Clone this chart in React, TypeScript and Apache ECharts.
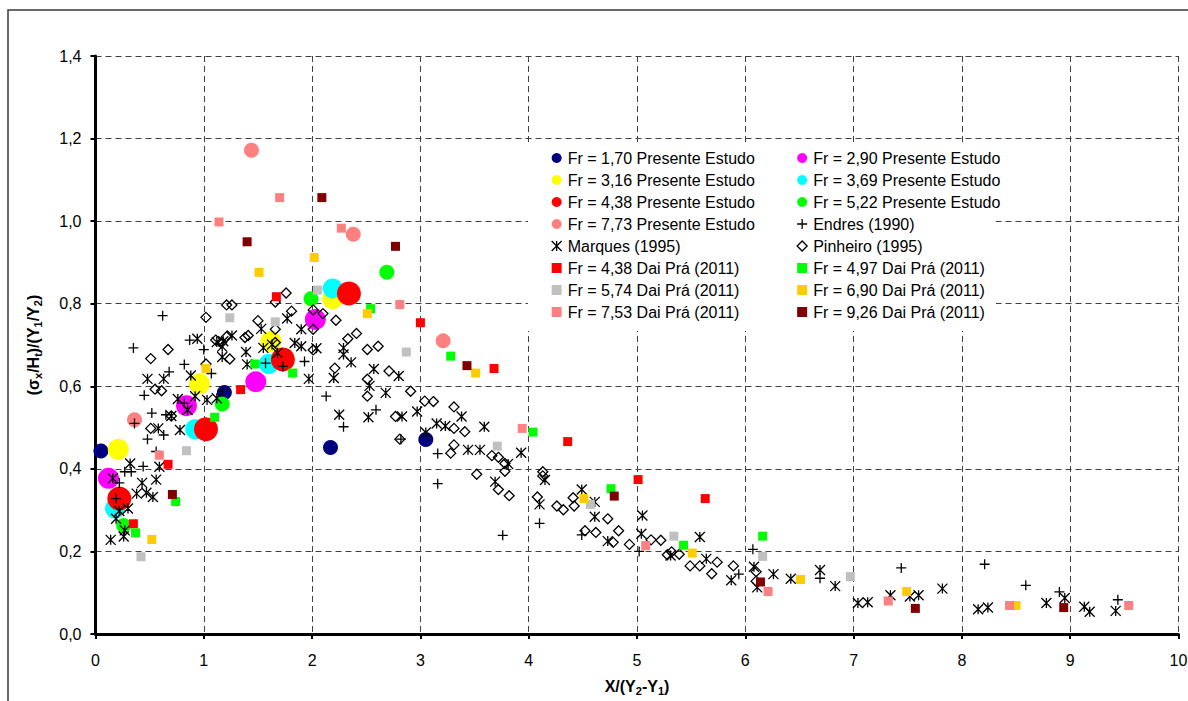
import React, { useEffect, useRef } from 'react';
import * as echarts from 'echarts';

const FONT = '"Liberation Sans", Arial, Helvetica, sans-serif';

// ---- axis ticks ----
const xMin = 0, xMax = 10, xStep = 1;
const yMin = 0, yMax = 1.4, yStep = 0.2;

// ---- Presente Estudo (circles) ----
const pe170 = [[0.05, 0.443], [1.19, 0.585], [2.17, 0.452], [3.05, 0.471]];
const pe290 = [[0.12, 0.377], [0.84, 0.553], [1.48, 0.611], [2.03, 0.762]];
const pe316 = [[0.21, 0.447], [0.96, 0.606], [1.62, 0.709], [2.19, 0.812]];
const pe369 = [[0.18, 0.304], [0.92, 0.496], [1.60, 0.654], [2.19, 0.837]];
const pe438 = [[0.22, 0.328], [1.02, 0.496], [1.73, 0.665], [2.34, 0.825]];
const pe522 = [[0.26, 0.263], [1.17, 0.557], [1.99, 0.812], [2.69, 0.876]];
const pe773 = [[0.36, 0.519], [1.44, 1.172], [2.38, 0.968], [3.21, 0.710]];

// ---- Endres (1990) ----
const endres = [
  [0.19, 0.328], [0.22, 0.366], [0.27, 0.393], [0.33, 0.393], [0.35, 0.693], [0.36, 0.510],
  [0.44, 0.406], [0.45, 0.578], [0.48, 0.472], [0.52, 0.535], [0.56, 0.442], [0.62, 0.771],
  [0.63, 0.482], [0.65, 0.531], [0.68, 0.635], [0.82, 0.653], [0.82, 0.559], [0.87, 0.712],
  [1.00, 0.689], [1.07, 0.631], [1.17, 0.588], [1.57, 0.656], [1.73, 0.648], [1.93, 0.660],
  [2.13, 0.576], [2.29, 0.502], [2.59, 0.543], [2.82, 0.472], [3.16, 0.437], [3.16, 0.364],
  [3.76, 0.239], [4.10, 0.268], [4.49, 0.240], [5.02, 0.200], [5.94, 0.145], [6.07, 0.205],
  [6.69, 0.135], [7.44, 0.160], [8.21, 0.169], [8.59, 0.118], [8.90, 0.102], [9.44, 0.083]
];

// ---- Marques (1995) ----
const marques = [
  [0.14, 0.228], [0.19, 0.279], [0.22, 0.298], [0.26, 0.236], [0.27, 0.251], [0.30, 0.304],
  [0.16, 0.377], [0.32, 0.413], [0.38, 0.340], [0.43, 0.366], [0.47, 0.342], [0.53, 0.332],
  [0.56, 0.374], [0.59, 0.405], [0.48, 0.618], [0.63, 0.618], [0.58, 0.498], [0.70, 0.528],
  [0.76, 0.569], [0.78, 0.494], [0.85, 0.543], [0.88, 0.626], [0.92, 0.576], [0.94, 0.715],
  [1.03, 0.567], [1.12, 0.571],
  [1.12, 0.707], [1.17, 0.696], [1.18, 0.709], [1.17, 0.671], [1.26, 0.723], [1.39, 0.683],
  [1.40, 0.653], [1.53, 0.739], [1.55, 0.693], [1.63, 0.701], [1.68, 0.681], [1.77, 0.764],
  [1.84, 0.705], [1.90, 0.738], [1.90, 0.697], [1.97, 0.618], [2.04, 0.692],
  [2.20, 0.620], [2.29, 0.693], [2.29, 0.677], [2.36, 0.658], [2.25, 0.531], [2.53, 0.601],
  [2.57, 0.642], [2.52, 0.525], [2.68, 0.584], [2.80, 0.625], [2.83, 0.527], [2.97, 0.539],
  [3.05, 0.488], [3.15, 0.510], [3.23, 0.504], [3.38, 0.527],
  [3.44, 0.446], [3.55, 0.446], [3.59, 0.502], [3.69, 0.369], [3.81, 0.412], [3.93, 0.439],
  [4.10, 0.314], [4.15, 0.373], [4.49, 0.350], [4.61, 0.320], [4.61, 0.284], [4.73, 0.225],
  [5.05, 0.287], [5.04, 0.243], [5.31, 0.190],
  [5.58, 0.235], [5.64, 0.182], [5.87, 0.130], [6.08, 0.163], [6.11, 0.113], [6.26, 0.145],
  [6.42, 0.134], [6.69, 0.155], [6.83, 0.116], [7.04, 0.075], [7.13, 0.077], [7.34, 0.094],
  [7.52, 0.091], [7.60, 0.094], [7.82, 0.110], [8.15, 0.060], [8.24, 0.064], [8.78, 0.075],
  [8.95, 0.087], [9.13, 0.066], [9.18, 0.054], [9.42, 0.056]
];

// ---- Pinheiro (1995) ----
const pinheiro = [
  [0.51, 0.667], [0.67, 0.689], [0.55, 0.593], [0.61, 0.589], [0.70, 0.528], [0.51, 0.498],
  [1.02, 0.767], [1.02, 0.654], [1.11, 0.712], [1.16, 0.705], [1.21, 0.797], [1.26, 0.797],
  [1.24, 0.666], [1.21, 0.720],
  [1.38, 0.718], [1.41, 0.723], [1.50, 0.759], [1.66, 0.738], [1.66, 0.706], [1.66, 0.804],
  [1.76, 0.826], [1.81, 0.782], [2.01, 0.785], [2.10, 0.776], [2.22, 0.760], [2.01, 0.738],
  [2.01, 0.688], [2.21, 0.644],
  [2.33, 0.715], [2.41, 0.728], [2.51, 0.689], [2.61, 0.697], [2.51, 0.617], [2.51, 0.576],
  [2.71, 0.637], [2.91, 0.588], [2.77, 0.527], [2.81, 0.472], [3.04, 0.564], [3.12, 0.563],
  [3.31, 0.550], [3.31, 0.498], [3.41, 0.490], [3.31, 0.458], [3.28, 0.438],
  [3.52, 0.387], [3.66, 0.432], [3.72, 0.428], [3.78, 0.413], [3.78, 0.394], [3.72, 0.350],
  [3.82, 0.335], [4.13, 0.393], [4.13, 0.383], [4.08, 0.332], [4.26, 0.310], [4.32, 0.301],
  [4.41, 0.330], [4.42, 0.310], [4.52, 0.250], [4.62, 0.246], [4.73, 0.279], [4.78, 0.222],
  [4.83, 0.250], [4.93, 0.217], [5.13, 0.228], [5.22, 0.227], [5.28, 0.192], [5.32, 0.199],
  [5.39, 0.193], [5.49, 0.165], [5.58, 0.165], [5.69, 0.146], [5.74, 0.174], [5.89, 0.165],
  [6.10, 0.151], [6.10, 0.128]
];

// ---- Dai Prá (2011) (squares) ----
const dp438 = [[0.35, 0.267], [0.67, 0.411], [1.34, 0.592], [1.67, 0.817], [3.00, 0.754], [3.68, 0.643], [4.36, 0.466], [5.01, 0.374], [5.63, 0.328]];
const dp497 = [[0.37, 0.245], [0.74, 0.321], [1.10, 0.525], [1.47, 0.654], [1.82, 0.632], [2.54, 0.788], [3.28, 0.673], [4.04, 0.489], [4.76, 0.352], [5.43, 0.215], [6.16, 0.237]];
const dp574 = [[0.42, 0.187], [0.84, 0.444], [1.24, 0.766], [1.66, 0.756], [2.05, 0.833], [2.87, 0.683], [3.71, 0.455], [4.57, 0.314], [5.34, 0.237], [6.16, 0.188], [6.97, 0.139]];
const dp690 = [[0.52, 0.229], [1.02, 0.643], [1.51, 0.876], [2.02, 0.912], [2.51, 0.776], [3.51, 0.632], [4.51, 0.328], [5.51, 0.196], [6.51, 0.132], [7.49, 0.103], [8.50, 0.069]];
const dp753 = [[0.59, 0.433], [1.14, 0.998], [1.70, 1.057], [2.27, 0.983], [2.81, 0.798], [3.94, 0.498], [5.08, 0.214], [6.21, 0.103], [7.32, 0.080], [8.44, 0.069], [9.54, 0.069]];
const dp926 = [[0.71, 0.338], [1.40, 0.950], [2.09, 1.057], [2.77, 0.939], [3.43, 0.650], [4.79, 0.334], [6.14, 0.126], [7.57, 0.062], [8.94, 0.064]];

const PLUS = 'path://M0,5L10,5M5,0L5,10';
const STAR = 'path://M0,0L10,10M10,0L0,10M5,0L5,10';

type Def = { name: string; data: number[][]; kind: 'circle' | 'rect' | 'plus' | 'star' | 'diamond'; size: number; color: string };

const defs: Def[] = [
  { name: 'Fr = 1,70 Presente Estudo', data: pe170, kind: 'circle', size: 15, color: '#000080' },
  { name: 'Fr = 2,90 Presente Estudo', data: pe290, kind: 'circle', size: 21, color: '#FF00FF' },
  { name: 'Fr = 3,16 Presente Estudo', data: pe316, kind: 'circle', size: 21, color: '#FFFF00' },
  { name: 'Fr = 3,69 Presente Estudo', data: pe369, kind: 'circle', size: 20, color: '#00FFFF' },
  { name: 'Fr = 4,38 Presente Estudo', data: pe438, kind: 'circle', size: 24, color: '#FF0000' },
  { name: 'Fr = 5,22 Presente Estudo', data: pe522, kind: 'circle', size: 15, color: '#00FF00' },
  { name: 'Fr = 7,73 Presente Estudo', data: pe773, kind: 'circle', size: 15, color: '#FF8080' },
  { name: 'Endres (1990)', data: endres, kind: 'plus', size: 10, color: '#000000' },
  { name: 'Marques (1995)', data: marques, kind: 'star', size: 10, color: '#000000' },
  { name: 'Pinheiro (1995)', data: pinheiro, kind: 'diamond', size: 10, color: '#000000' },
  { name: 'Fr = 4,38 Dai Prá (2011)', data: dp438, kind: 'rect', size: 9, color: '#FF0000' },
  { name: 'Fr = 4,97 Dai Prá (2011)', data: dp497, kind: 'rect', size: 9, color: '#00FF00' },
  { name: 'Fr = 5,74 Dai Prá (2011)', data: dp574, kind: 'rect', size: 9, color: '#C0C0C0' },
  { name: 'Fr = 6,90 Dai Prá (2011)', data: dp690, kind: 'rect', size: 9, color: '#FFCC00' },
  { name: 'Fr = 7,53 Dai Prá (2011)', data: dp753, kind: 'rect', size: 9, color: '#FF8080' },
  { name: 'Fr = 9,26 Dai Prá (2011)', data: dp926, kind: 'rect', size: 9, color: '#800000' }
];

const legendCol1 = [0, 2, 4, 6, 8, 10, 12, 14];
const legendCol2 = [1, 3, 5, 7, 9, 11, 13, 15];

function isStroked(d: Def) {
  return d.kind === 'plus' || d.kind === 'star' || d.kind === 'diamond';
}

function buildSeries(d: Def) {
  const symbol = d.kind === 'plus' ? PLUS : d.kind === 'star' ? STAR : d.kind;
  return {
    type: 'scatter',
    name: d.name,
    data: d.data,
    symbol,
    symbolSize: d.size,
    itemStyle: isStroked(d)
      ? { color: 'rgba(0,0,0,0)', borderColor: d.color, borderWidth: 1.3, opacity: 1 }
      : { color: d.color, borderWidth: 0, opacity: 1 },
    emphasis: { disabled: true }
  };
}

function legendItems(idx: number[]) {
  return idx.map((i) => {
    const d = defs[i];
    return isStroked(d)
      ? { name: d.name, itemStyle: { borderWidth: 1.3, opacity: 1 } }
      : { name: d.name, itemStyle: { opacity: 1 } };
  });
}

const legendCommon = {
  orient: 'vertical',
  top: 145,
  itemWidth: 10,
  itemHeight: 10,
  itemGap: 6,
  selectedMode: false,
  textStyle: { fontSize: 16, fontFamily: FONT, color: '#000', lineHeight: 16, padding: [0, 0, 0, 1] }
};

const nameRich = {
  n: { fontSize: 16, fontWeight: 'bold', fontFamily: FONT, color: '#000', lineHeight: 20 },
  s: { fontSize: 11, fontWeight: 'bold', fontFamily: FONT, color: '#000', lineHeight: 11, verticalAlign: 'bottom' }
};

export default function App() {
  const ref = useRef<HTMLDivElement>(null);
  useEffect(() => {
    const chart = echarts.init(ref.current as HTMLDivElement, null, { renderer: 'svg' });
    const option: any = {
      animation: false,
      backgroundColor: '#ffffff',
      textStyle: { fontFamily: FONT },
      grid: { left: 95.5, right: 9.5, top: 56, bottom: 67, containLabel: false, outerBoundsMode: 'none' },
      graphic: [
        {
          type: 'rect', z: -10, silent: true,
          shape: { x: 8, y: 10, width: 1400, height: 900 },
          style: { fill: 'rgba(0,0,0,0)', stroke: '#3a3a3a', lineWidth: 1.5 }
        },
        {
          type: 'rect', z: 1, silent: true,
          shape: { x: 528, y: 143, width: 468, height: 188 },
          style: { fill: '#ffffff' }
        }
      ],
      legend: [
        { ...legendCommon, left: 546, data: legendItems(legendCol1) },
        { ...legendCommon, left: 791.5, data: legendItems(legendCol2) }
      ],
      xAxis: {
        type: 'value',
        min: xMin, max: xMax, interval: xStep,
        name: '{n|X/(Y}{s|2}{n|-Y}{s|1}{n|)}',
        nameLocation: 'middle',
        nameGap: 42,
        nameTextStyle: { rich: nameRich },
        axisLine: { show: true, onZero: false, lineStyle: { color: '#000', width: 3 } },
        axisTick: { show: true, inside: false, length: 5, lineStyle: { color: '#000', width: 2 } },
        axisLabel: { fontSize: 16, fontFamily: FONT, color: '#000', margin: 18, formatter: (v: number) => String(Math.round(v)) },
        splitLine: { show: true, lineStyle: { color: '#404040', width: 1, type: [6, 4] } }
      },
      yAxis: {
        type: 'value',
        min: yMin, max: yMax, interval: yStep,
        name: '{n|(σ}{s|x}{n|/H}{s|t}{n|)/(Y}{s|1}{n|/Y}{s|2}{n|)}',
        nameLocation: 'middle',
        nameGap: 52,
        nameTextStyle: { rich: nameRich },
        axisLine: { show: true, onZero: false, lineStyle: { color: '#000', width: 3 } },
        axisTick: { show: true, inside: false, length: 5, lineStyle: { color: '#000', width: 2 } },
        axisLabel: { fontSize: 16, fontFamily: FONT, color: '#000', margin: 14, formatter: (v: number) => v.toFixed(1).replace('.', ',') },
        splitLine: { show: true, lineStyle: { color: '#404040', width: 1, type: [6, 4] } }
      },
      series: defs.map(buildSeries)
    };
    chart.setOption(option);
    return () => chart.dispose();
  }, []);
  return (
    <div
      ref={ref}
      style={{ position: 'absolute', left: 0, top: 0, width: 1188, height: 701, background: '#fff' }}
    />
  );
}
